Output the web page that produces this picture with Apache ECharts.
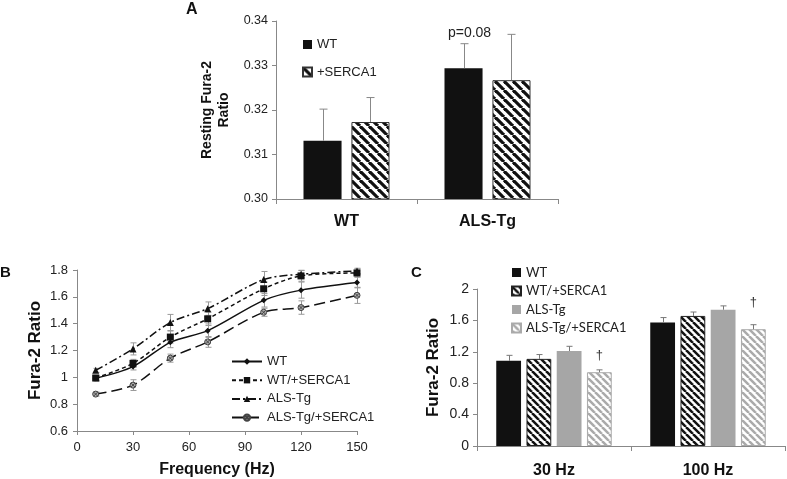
<!DOCTYPE html>
<html><head><meta charset="utf-8">
<script src="https://cdn.jsdelivr.net/npm/echarts@6/dist/echarts.min.js"></script>
<style>html,body{margin:0;padding:0;background:#fff}#c{width:787px;height:479px}</style>
</head><body><div id="c"></div>
<script>
// ---- Panel A data ----
const catsA = ['WT', 'ALS-Tg'];
const aWT = [0.3131, 0.3294];
const aWTerr = [0.0071, 0.0055];
const aSERCA = [0.3173, 0.3267];
const aSERCAerr = [0.0055, 0.0103];
const aTicks = [0.30, 0.34, 0.01];
// ---- Panel B data ----
const freqB = [10, 30, 50, 70, 100, 120, 150];
const bWT = [0.993, 1.080, 1.261, 1.348, 1.574, 1.650, 1.707];
const bWTerr = [0.02, 0.025, 0.04, 0.05, 0.05, 0.06, 0.04];
const bWTS = [0.995, 1.104, 1.300, 1.436, 1.660, 1.756, 1.778];
const bWTSerr = [0.02, 0.03, 0.045, 0.05, 0.05, 0.04, 0.03];
const bALS = [1.052, 1.212, 1.409, 1.512, 1.729, 1.768, 1.793];
const bALSerr = [0.015, 0.045, 0.06, 0.05, 0.06, 0.03, 0.02];
const bALSS = [0.875, 0.942, 1.143, 1.264, 1.485, 1.520, 1.611];
const bALSSerr = [0.015, 0.04, 0.03, 0.04, 0.03, 0.05, 0.06];
// ---- Panel C data ----
const catsC = ['30 Hz', '100 Hz'];
const cWT = [1.085, 1.574];
const cWTerr = [0.07, 0.062];
const cWTS = [1.11, 1.657];
const cWTSerr = [0.055, 0.05];
const cALS = [1.21, 1.736];
const cALSerr = [0.06, 0.049];
const cALSS = [0.94, 1.488];
const cALSSerr = [0.03, 0.057];
const namesB = ['WT', 'WT/+SERCA1', 'ALS-Tg', 'ALS-Tg/+SERCA1'];

function hatch(fg, bg, period, lw) {
  const c = document.createElement('canvas');
  c.width = c.height = period;
  const ctx = c.getContext('2d');
  ctx.fillStyle = bg; ctx.fillRect(0, 0, period, period);
  ctx.strokeStyle = fg; ctx.lineWidth = lw;
  for (const o of [-period, 0, period]) {
    ctx.beginPath(); ctx.moveTo(o, 0); ctx.lineTo(o + period, period); ctx.stroke();
  }
  return c;
}
const patA = { image: hatch('#111', '#fff', 9, 3.2), repeat: 'repeat' };
const patC = { image: hatch('#111', '#fff', 7, 2.5), repeat: 'repeat' };
const patCL = { image: hatch('#aaa', '#fff', 7, 2.5), repeat: 'repeat' };

const FONT = 'Liberation Sans, Arial, sans-serif';

function barErr(xi, yi, vals, errs, idx, n, gap, catGap, color, cap) {
  return {
    type: 'custom', xAxisIndex: xi, yAxisIndex: yi, z: 5, silent: true,
    data: vals.map((v, i) => [i, v, errs[i]]),
    renderItem(params, api) {
      const catW = api.size([1, 0])[0];
      const band = catW * (1 - catGap);
      const w = band / (n + (n - 1) * gap);
      const off = -band / 2 + idx * w * (1 + gap) + w / 2;
      const p = api.coord([api.value(0), api.value(1)]);
      const t = api.coord([api.value(0), api.value(1) + api.value(2)]);
      const x = Math.round(p[0] + off) + 0.5;
      return { type: 'group', children: [
        { type: 'line', shape: { x1: x, y1: p[1], x2: x, y2: t[1] }, style: { stroke: color, lineWidth: 1 } },
        { type: 'line', shape: { x1: x - cap, y1: t[1], x2: x + cap, y2: t[1] }, style: { stroke: color, lineWidth: 1 } }
      ]};
    }
  };
}
function lineErr(xi, yi, xs, vals, errs, color, cap) {
  return {
    type: 'custom', xAxisIndex: xi, yAxisIndex: yi, z: 1, silent: true,
    data: vals.map((v, i) => [xs[i], v, errs[i]]),
    renderItem(params, api) {
      const lo = api.coord([api.value(0), api.value(1) - api.value(2)]);
      const hi = api.coord([api.value(0), api.value(1) + api.value(2)]);
      const x = Math.round(lo[0]) + 0.5;
      return { type: 'group', children: [
        { type: 'line', shape: { x1: x, y1: lo[1], x2: x, y2: hi[1] }, style: { stroke: color, lineWidth: 1 } },
        { type: 'line', shape: { x1: x - cap, y1: hi[1], x2: x + cap, y2: hi[1] }, style: { stroke: color, lineWidth: 1 } },
        { type: 'line', shape: { x1: x - cap, y1: lo[1], x2: x + cap, y2: lo[1] }, style: { stroke: color, lineWidth: 1 } }
      ]};
    }
  };
}

const axisLine = { lineStyle: { color: '#888', width: 1 } };
const axisTick = { show: true, length: 4, lineStyle: { color: '#888' } };
const tickLbl = (fs) => ({ color: '#222', fontSize: fs, fontFamily: FONT });

const chart = echarts.init(document.getElementById('c'), null, { renderer: 'canvas' });
const lineSeries = [
  { name: 'B:WT', data: bWT, symbol: 'diamond', symbolSize: 6, type: [] },
  { name: 'B:WT/+SERCA1', data: bWTS, symbol: 'rect', symbolSize: 7, type: [4, 3] },
  { name: 'B:ALS-Tg', data: bALS, symbol: 'triangle', symbolSize: 7, type: [8, 3, 2, 3] },
  { name: 'B:ALS-Tg/+SERCA1', data: bALSS, symbol: 'path://M50,0A50,50 0 1,1 49.99,0Z M18,18L82,82M82,18L18,82', symbolSize: 6, type: [11, 5] }
].map((s, k) => ({
  type: 'line', name: s.name, xAxisIndex: 1, yAxisIndex: 1, smooth: 0.3, z: 3,
  data: s.data.map((v, i) => [freqB[i], v]),
  symbol: s.symbol, symbolSize: s.symbolSize, showSymbol: true,
  lineStyle: { color: '#111', width: 1.5, type: s.type.length ? s.type : 'solid' },
  itemStyle: k === 3 ? { color: '#aaa', borderColor: '#444', borderWidth: 1 } : { color: '#111' }
}));

const option = {
  animation: false,
  backgroundColor: '#fff',
  textStyle: { fontFamily: FONT },
  graphic: [
    { type: 'text', left: 186, top: 2, style: { text: 'A', font: 'bold 16px ' + FONT, fill: '#111' } },
    { type: 'text', left: 0, top: 265, style: { text: 'B', font: 'bold 15px ' + FONT, fill: '#111' } },
    { type: 'text', left: 411, top: 265, style: { text: 'C', font: 'bold 15px ' + FONT, fill: '#111' } }
  ],
  grid: [
    { left: 276, right: 229, top: 21, bottom: 280 },
    { left: 77, right: 430, top: 270, bottom: 47 },
    { left: 477, right: 2, top: 289, bottom: 31 }
  ],
  legend: [
    { orient: 'vertical', left: 297, top: 33, itemWidth: 9, itemHeight: 9, itemGap: 14.5, icon: 'rect',
      data: ['A:WT', 'A:+SERCA1'], formatter: n => n.split(':')[1],
      textStyle: { fontSize: 13, color: '#222', fontFamily: FONT }, selectedMode: false },
    { orient: 'vertical', left: 226, top: 350, itemWidth: 30, itemHeight: 8, itemGap: 5.7,
      data: namesB.map(n => 'B:' + n), formatter: n => n.split(':')[1],
      textStyle: { fontSize: 13, color: '#222', fontFamily: FONT }, selectedMode: false },
    { orient: 'vertical', left: 506, top: 261, itemWidth: 9, itemHeight: 9, itemGap: 5.5, icon: 'rect',
      data: namesB.map(n => 'C:' + n), formatter: n => n.split(':')[1],
      textStyle: { fontSize: 13, color: '#222', fontFamily: 'Lato, sans-serif' }, selectedMode: false }
  ],
  xAxis: [
    { type: 'category', gridIndex: 0, data: catsA, axisLine, axisTick: { show: true, length: 5, lineStyle: { color: '#888' } },
      axisLabel: { color: '#111', fontSize: 16, fontWeight: 'bold', fontFamily: FONT, margin: 15 } },
    { type: 'value', gridIndex: 1, min: 0, max: 150, interval: 30, splitLine: { show: false }, axisLine, axisTick,
      axisLabel: Object.assign(tickLbl(13), { margin: 10 }),
      name: 'Frequency (Hz)', nameLocation: 'middle', nameGap: 31,
      nameTextStyle: { fontSize: 16, fontWeight: 'bold', color: '#111', fontFamily: FONT } },
    { type: 'category', gridIndex: 2, data: catsC, axisLine, axisTick: { show: true, length: 5, lineStyle: { color: '#888' } },
      axisLabel: { color: '#111', fontSize: 16, fontWeight: 'bold', fontFamily: FONT, margin: 17 } }
  ],
  yAxis: [
    { type: 'value', gridIndex: 0, min: aTicks[0], max: aTicks[1], interval: aTicks[2], splitLine: { show: false },
      axisLine: Object.assign({ show: true }, axisLine), axisTick,
      axisLabel: Object.assign(tickLbl(12.5), { margin: 8, formatter: v => v.toFixed(2) }),
      name: 'Resting Fura-2\nRatio', nameLocation: 'middle', nameRotate: 90, nameGap: 43,
      nameTextStyle: { fontSize: 14, fontWeight: 'bold', color: '#111', fontFamily: FONT, lineHeight: 17 } },
    { type: 'value', gridIndex: 1, min: 0.6, max: 1.8, interval: 0.2, splitLine: { show: false },
      axisLine: Object.assign({ show: true }, axisLine), axisTick,
      axisLabel: Object.assign(tickLbl(13), { margin: 9, formatter: v => String(Math.round(v * 10) / 10) }),
      name: 'Fura-2 Ratio', nameLocation: 'middle', nameRotate: 90, nameGap: 33,
      nameTextStyle: { fontSize: 17, fontWeight: 'bold', color: '#111', fontFamily: FONT } },
    { type: 'value', gridIndex: 2, min: 0, max: 2, interval: 0.4, splitLine: { show: false },
      axisLine: Object.assign({ show: true }, axisLine), axisTick,
      axisLabel: Object.assign(tickLbl(14), { margin: 8, formatter: v => String(Math.round(v * 10) / 10) }),
      name: 'Fura-2 Ratio', nameLocation: 'middle', nameRotate: 90, nameGap: 35,
      nameTextStyle: { fontSize: 17, fontWeight: 'bold', color: '#111', fontFamily: FONT } }
  ],
  series: [
    // Panel A bars
    { type: 'bar', name: 'A:WT', xAxisIndex: 0, yAxisIndex: 0, barGap: '26%', barCategoryGap: '39%',
      itemStyle: { color: '#111' },
      data: aWT.map((v, i) => i === 1 ? { value: v, label: { show: true, position: 'top', distance: 28, offset: [6, 0],
        formatter: 'p=0.08', fontSize: 14, color: '#222', fontFamily: FONT } } : v) },
    { type: 'bar', name: 'A:+SERCA1', xAxisIndex: 0, yAxisIndex: 0, barGap: '26%', barCategoryGap: '39%',
      itemStyle: { color: patA, borderColor: '#333', borderWidth: 1 }, data: aSERCA },
    barErr(0, 0, aWT, aWTerr, 0, 2, 0.26, 0.39, '#888', 4),
    barErr(0, 0, aSERCA, aSERCAerr, 1, 2, 0.26, 0.39, '#888', 4),
    // Panel B lines
    ...lineSeries,
    lineErr(1, 1, freqB, bWT, bWTerr, '#999', 3),
    lineErr(1, 1, freqB, bWTS, bWTSerr, '#999', 3),
    lineErr(1, 1, freqB, bALS, bALSerr, '#999', 3),
    lineErr(1, 1, freqB, bALSS, bALSSerr, '#999', 3),
    // Panel C bars
    { type: 'bar', name: 'C:WT', xAxisIndex: 2, yAxisIndex: 2, barGap: '22%', barCategoryGap: '25%',
      itemStyle: { color: '#111' }, data: cWT },
    { type: 'bar', name: 'C:WT/+SERCA1', xAxisIndex: 2, yAxisIndex: 2, barGap: '22%', barCategoryGap: '25%',
      itemStyle: { color: patC, borderColor: '#222', borderWidth: 1 }, data: cWTS },
    { type: 'bar', name: 'C:ALS-Tg', xAxisIndex: 2, yAxisIndex: 2, barGap: '22%', barCategoryGap: '25%',
      itemStyle: { color: '#a6a6a6' }, data: cALS },
    { type: 'bar', name: 'C:ALS-Tg/+SERCA1', xAxisIndex: 2, yAxisIndex: 2, barGap: '22%', barCategoryGap: '25%',
      itemStyle: { color: patCL, borderColor: '#aaa', borderWidth: 1 },
      data: cALSS.map((v, i) => ({ value: v, label: { show: true, position: 'top', distance: i === 0 ? 10 : 20,
        formatter: '†', fontSize: 13, color: '#333', fontFamily: FONT } })) },
    barErr(2, 2, cWT, cWTerr, 0, 4, 0.22, 0.25, '#777', 3),
    barErr(2, 2, cWTS, cWTSerr, 1, 4, 0.22, 0.25, '#777', 3),
    barErr(2, 2, cALS, cALSerr, 2, 4, 0.22, 0.25, '#777', 3),
    barErr(2, 2, cALSS, cALSSerr, 3, 4, 0.22, 0.25, '#777', 3)
  ]
};
chart.setOption(option);
</script></body></html>
